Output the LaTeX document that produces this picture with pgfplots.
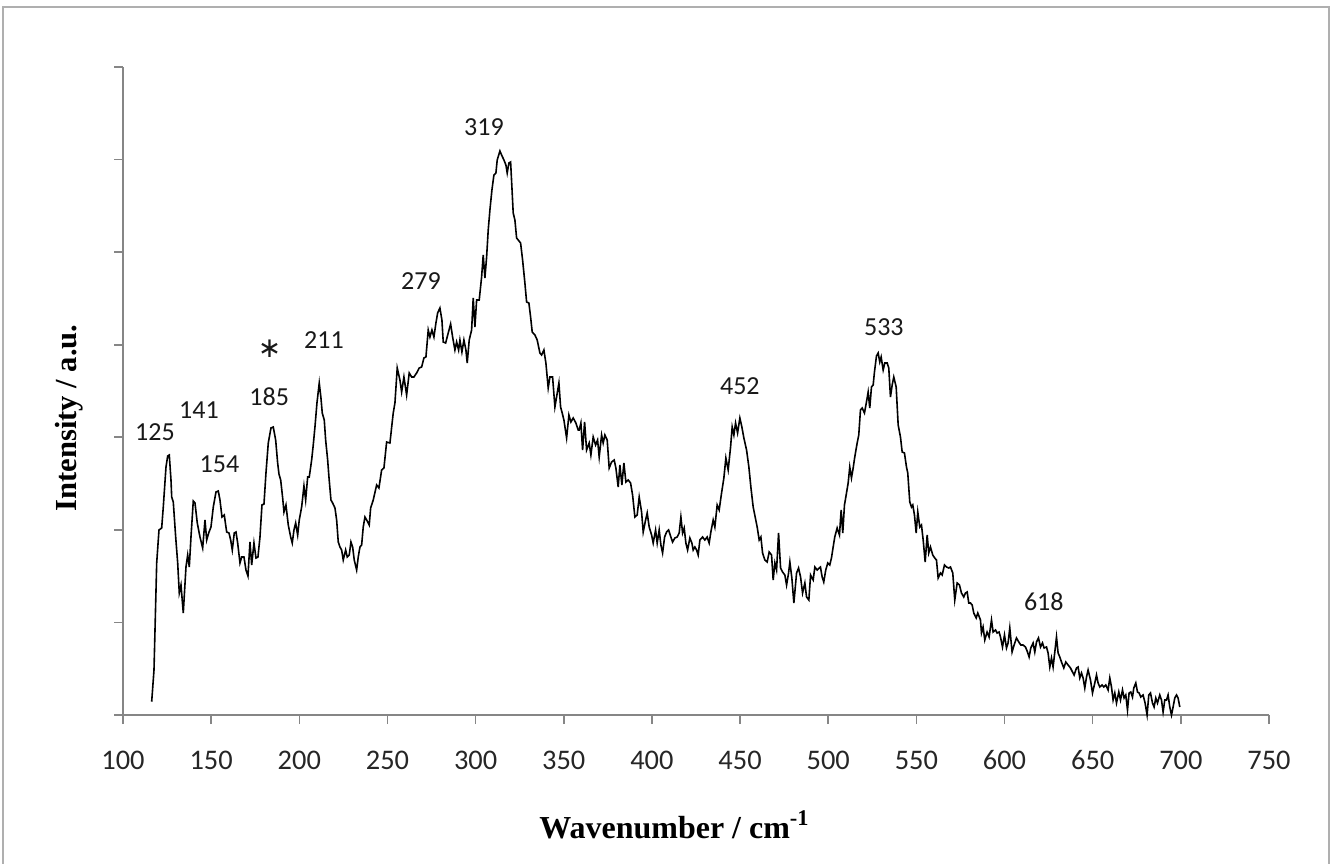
\documentclass[border=0pt]{standalone}
\usepackage{fontspec}
\setmainfont{Carlito}
\newfontfamily\tnr{Liberation Serif}
\newfontfamily\djv{DejaVu Sans}
\usepackage{pgfplots}
\pgfplotsset{compat=1.18}
\definecolor{axisgray}{RGB}{134,134,134}
\definecolor{bordergray}{RGB}{175,175,175}
\begin{document}
\begin{tikzpicture}[x=1pt,y=1pt]
\path[use as bounding box] (0,0) rectangle (666.5,431.5);
\draw[bordergray, line width=1pt] (1.5,-10) rectangle (664.5,428);
\begin{axis}[
  at={(61.5pt,74pt)}, anchor=south west,
  width=573pt, height=324pt, scale only axis,
  xmin=100, xmax=750, ymin=0, ymax=648,
  axis lines*=left,
  axis line style={draw=axisgray, line width=0.8pt},
  xtick={100,150,...,750},
  ytick={0,92.571,185.143,277.714,370.286,462.857,555.429,648},
  yticklabels={},
  tick align=outside,
  major tick length=4.5pt,
  tick style={draw=axisgray, line width=0.8pt},
  /pgf/number format/assume math mode=true,
  xticklabel style={font=\fontsize{14.2}{16}\selectfont, text=black!85, anchor=base, yshift=-22.5pt},
  clip=false,
]
\addplot[black, line width=0.8pt] coordinates {
(116.27,13.3)(117.58,45)(119.11,152)(120.41,185)(121.94,187)(122.85,208)(124.38,248)(125.35,259)(126.25,260)(127.22,235)(127.62,218)(128.52,213)(129.88,178)(131.02,152)(131.92,122)(132.89,130)(134.19,102)(135.72,148)(136.69,160)(137.60,148)(138.56,178)(139.86,214)(140.83,212)(142.13,192)(143.66,178)(145.19,167)(146.50,195)(147.46,175)(148.60,182)(149.90,188)(151.21,208)(152.74,223)(154.04,224)(155.00,215)(156.14,198)(157.44,200)(158.80,183)(160.11,182)(161.07,175)(161.98,165)(163.11,182)(164.08,183)(165.04,172)(166.35,152)(167.31,158)(168.61,158)(169.75,145)(170.88,139)(172.02,173)(172.98,150)(174.28,172)(175.42,157)(176.55,158)(177.69,178)(178.82,210)(179.96,211)(181.09,242)(182.40,272)(183.92,287)(185.23,288)(186.59,275)(187.72,252)(188.46,241)(189.43,235)(190.56,217)(191.30,203)(192.43,210)(193.74,190)(195.10,178)(196.00,172)(196.97,185)(197.93,192)(199.07,180)(199.97,195)(201.33,208)(202.64,229)(203.60,215)(204.74,238)(205.64,238)(207.00,255)(207.91,270)(208.87,288)(210.01,312)(211.31,332)(212.28,317)(213.01,302)(214.15,295)(214.94,275)(216.08,255)(216.81,238)(217.95,215)(218.91,212)(220.22,207)(221.18,195)(222.09,173)(223.05,168)(224.01,165)(224.92,155)(226.28,165)(227.19,158)(228.32,160)(229.29,173)(230.25,168)(231.16,155)(232.52,145)(233.43,158)(234.39,168)(235.35,170)(236.26,188)(237.23,198)(238.19,195)(239.66,190)
(240.46,207)(241.93,215)(243.86,230)(245.16,227)(246.69,245)(248.00,247)(249.53,273)(251.40,272)(253.27,302)(254.24,312)(255.54,347)(257.07,335)(258.04,323)(259.34,338)(260.87,320)(262.34,342)(263.71,338)(265.01,338)(266.54,342)(268.02,347)(269.38,348)(270.68,357)(271.82,358)(273.12,385)(274.09,378)(275.22,385)(276.35,378)(277.49,392)(278.45,402)(279.76,407)(280.89,395)(281.63,373)(282.99,372)(284.46,382)(285.82,391)(286.96,378)(288.26,365)(289.23,373)(290.36,365)(291.10,375)(292.23,363)(293.36,375)(294.50,365)(295.24,352)(296.37,375)(297.73,385)(298.64,417)(299.60,388)(300.57,415)(302.04,415)(303.40,438)(304.31,460)(305.27,437)(306.24,458)(307.15,485)(308.11,505)(309.25,525)(310.38,540)(311.51,542)(312.25,555)(313.78,564)(314.74,560)(316.05,555)(317.18,550)(317.92,542)(318.88,552)(319.85,553)(320.58,528)(321.32,502)(322.28,495)(323.25,477)(324.15,475)(325.51,472)(326.65,455)(327.95,432)(328.92,413)(330.22,412)(331.19,398)(332.10,383)(333.63,380)(334.93,375)(336.46,362)(337.43,360)(338.73,365)(339.86,352)(341.17,327)(342.13,338)(343.66,338)(344.97,308)(345.93,318)(347.24,332)(348.20,308)(349.11,302)(350.08,295)(351.61,277)(352.91,300)(354.05,293)(355.35,297)(356.88,292)(358.18,285)
(358.75,285)(359.71,292)(360.68,265)(361.81,293)(362.94,265)(364.42,272)(365.38,260)(366.69,278)(368.05,270)(369.18,275)(370.09,258)(371.45,280)(372.36,272)(373.32,280)(374.63,275)(375.76,247)(377.12,253)(378.60,255)(379.56,247)(380.86,228)(381.83,250)(382.96,230)(384.10,252)(385.23,233)(386.53,235)(387.90,232)(389.03,220)(390.33,198)(391.64,200)(392.78,218)(394.14,203)(395.05,183)(396.41,195)(397.32,202)(398.45,188)(399.81,180)(400.72,172)(402.08,185)(402.99,172)(404.12,185)(405.09,170)(406.05,162)(407.19,178)(408.32,183)(409.45,185)(410.76,178)(411.72,173)(413.02,177)(414.33,178)(415.46,182)(416.43,198)(417.39,182)(418.30,187)(419.26,172)(420.23,165)(421.53,177)(422.66,172)(423.40,165)(424.36,168)(425.33,165)(426.23,160)(427.20,175)(428.73,178)(430.03,175)(431.33,178)(432.47,172)(433.43,183)(434.74,195)(435.70,188)(437.01,210)(438.14,205)(439.50,222)(440.81,237)(441.94,257)(443.25,245)(444.61,268)(445.52,288)(446.48,280)(447.44,292)(448.58,282)(449.88,297)(451.02,288)(452.15,277)(453.68,265)(454.99,248)(456.12,228)(457.43,208)(458.56,198)(459.70,188)(460.83,175)(461.80,178)(462.76,162)(464.06,155)(465.37,153)(466.50,163)(467.86,160)(468.77,135)(469.73,152)(470.70,145)(471.83,182)(472.97,147)(474.10,143)(475.40,140)(476.37,130)(477.50,142)(478.24,153)(479.37,137)(480.51,112)(482.04,142)(483.17,147)(484.31,138)(485.44,122)(486.75,132)(487.71,118)(489.01,115)(489.98,140)(491.45,135)(492.42,148)(493.72,145)(494.85,147)
(495.59,148)(496.55,138)(497.46,133)(498.60,145)(499.73,152)(500.87,150)(501.83,157)(502.80,168)(503.70,178)(505.06,187)(506.37,180)(507.33,205)(508.24,182)(509.21,210)(510.17,220)(511.30,232)(512.21,248)(513.18,237)(514.14,247)(515.05,258)(516.41,272)(517.32,280)(518.28,305)(519.25,307)(520.55,302)(521.69,313)(522.65,323)(523.56,307)(524.52,328)(525.49,330)(526.22,343)(527.36,359)(528.32,362)(529.23,353)(530.02,358)(531.16,345)(532.07,352)(533.43,352)(534.34,347)(535.30,318)(536.27,330)(537.17,338)(538.54,328)(539.67,290)(540.97,278)(541.94,263)(543.24,262)(544.38,248)(545.11,242)(546.25,213)(547.21,208)(547.95,210)(548.91,200)(549.88,182)(550.79,203)(551.92,188)(552.88,190)(553.85,175)(554.98,153)(556.12,180)(557.02,162)(557.99,168)(559.29,160)(560.43,157)(561.39,155)(562.35,137)(563.66,142)(564.62,140)(565.93,150)(567.06,148)(568.37,147)(569.33,148)(570.64,142)(571.77,115)(573.13,132)(574.44,130)(575.57,122)(576.87,118)(577.84,122)(578.80,123)(579.71,112)(580.68,112)(581.64,110)(582.55,102)(583.91,97)(584.82,102)(586.35,95)
(586.92,82)(587.83,88)(588.80,75)(590.10,83)(591.24,78)(592.60,95)(593.51,83)(594.87,85)(595.77,82)(596.91,83)(597.70,78)(598.84,68)(599.97,80)(601.11,67)(602.01,72)(602.98,87)(604.28,63)(605.42,70)(606.78,77)(608.08,73)(609.22,70)(610.52,70)(611.88,68)(613.02,63)(613.93,58)(614.89,67)(616.20,72)(617.16,63)(618.12,73)(619.26,77)(620.39,68)(621.53,72)(622.44,67)(623.80,68)(624.71,62)(625.67,48)(626.63,57)(627.54,48)(628.51,63)(629.47,78)(630.38,62)(631.34,58)(632.31,53)(633.61,47)(634.74,53)(636.05,50)(637.41,47)(638.55,43)(639.45,40)(640.82,47)(641.72,48)(642.69,37)(643.65,42)(644.56,37)(645.52,27)(646.49,38)(647.39,45)(648.75,35)(649.89,22)(651.19,32)(652.16,40)(653.06,32)(654.03,28)(655.33,30)(656.30,28)(657.43,30)(658.73,25)(659.70,37)(660.66,28)(661.57,15)(662.53,22)(663.50,12)(664.80,23)(665.77,15)(666.90,25)(667.81,17)(668.77,20)(669.74,5)(670.64,22)(671.61,23)(672.57,18)(673.31,27)(674.44,32)(675.41,23)(676.32,22)(677.28,18)(678.58,20)(679.72,12)(680.85,0)(681.82,20)(682.78,22)(683.91,12)(684.82,8)(685.79,17)(686.75,12)(688.05,20)(689.02,15)(689.93,3)(690.89,15)(691.86,15)(692.76,20)(693.73,8)(694.69,0)(695.60,8)(696.56,17)(697.53,20)(698.43,17)(699.40,8)
};
\begin{scope}[every node/.style={font=\fontsize{13}{15}\selectfont, text=black!90}]
\node at (axis cs:118.15,283) {125};
\node at (axis cs:143.10,305) {141};
\node at (axis cs:154.72,251) {154};
\node at (axis cs:182.90,318) {185};
\node[anchor=north, inner sep=0pt, font=\djv\fontsize{14}{16}\selectfont] at (axis cs:183.19,375) {∗};
\node at (axis cs:213.98,375) {211};
\node at (axis cs:268.98,434) {279};
\node at (axis cs:304.71,588) {319};
\node at (axis cs:449.88,329) {452};
\node at (axis cs:531.54,388) {533};
\node at (axis cs:622.25,113) {618};
\end{scope}
\end{axis}
\node[anchor=base, font=\tnr\bfseries\fontsize{16}{19}\selectfont] at (337.25,12.5) {Wavenumber / cm\textsuperscript{-1}};
\node[anchor=base, rotate=90, font=\tnr\bfseries\fontsize{15.3}{19}\selectfont] at (38.3,222.5) {Intensity / a.u.};
\end{tikzpicture}
\end{document}
